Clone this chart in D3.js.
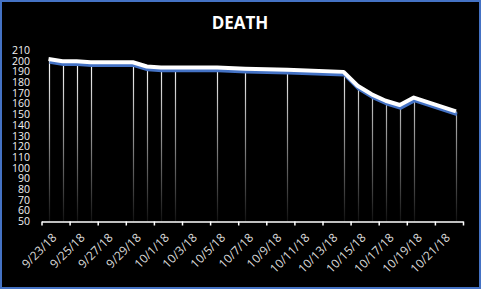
<!DOCTYPE html>
<html>
<head>
<meta charset="utf-8">
<script src="https://cdn.jsdelivr.net/npm/d3@7"></script>
<style>
  html, body { margin: 0; padding: 0; background: #000; }
  svg { display: block; }
</style>
</head>
<body>
<div id="chart"></div>
<script>
// data
const dates = ["2018-09-23", "2018-09-24", "2018-09-25", "2018-09-26", "2018-09-29", "2018-09-30",
  "2018-10-01", "2018-10-02", "2018-10-05", "2018-10-07", "2018-10-10", "2018-10-14",
  "2018-10-15", "2018-10-16", "2018-10-17", "2018-10-18", "2018-10-19", "2018-10-22"];
const deaths = [202, 200, 200, 199, 199, 195, 194, 194, 194, 193, 192, 190, 177, 169, 163, 159, 166, 153];
const yTicks = [50, 60, 70, 80, 90, 100, 110, 120, 130, 140, 150, 160, 170, 180, 190, 200, 210];
const title = "DEATH";

const width = 481, height = 289;
const parse = d3.timeParse("%Y-%m-%d");
const fmt = d => (d.getMonth() + 1) + "/" + d.getDate() + "/" + String(d.getFullYear()).slice(2);
const noon = d => d3.timeHour.offset(d, 12);

const data = dates.map((d, i) => ({ date: parse(d), value: deaths[i] }));

const svg = d3.select("#chart").append("svg")
  .attr("width", width)
  .attr("height", height);

// background + blue frame
svg.append("rect")
  .attr("x", 1).attr("y", 1)
  .attr("width", width - 2).attr("height", height - 2)
  .attr("fill", "#000")
  .attr("stroke", "#4472c4")
  .attr("stroke-width", 2);

svg.append("text")
  .attr("x", 240).attr("y", 29)
  .attr("text-anchor", "middle")
  .attr("fill", "#fff")
  .style("font", "bold 17px 'Open Sans', sans-serif")
  .text(title);

// scales: one day = one slot, points in the middle of the slot
const x = d3.scaleTime()
  .domain([parse("2018-09-23"), parse("2018-10-23")])
  .range([41.5, 463]);
const y = d3.scaleLinear()
  .domain([50, 210])
  .range([221.5, 50.5]);

// y labels (no axis line)
svg.append("g")
  .selectAll("text")
  .data(yTicks)
  .join("text")
  .attr("x", 30)
  .attr("y", d => y(d) + 3.5)
  .attr("text-anchor", "end")
  .attr("fill", "#f2f2f2")
  .style("font", "10.5px 'Open Sans', sans-serif")
  .text(d => d);

// fading drop lines
const defs = svg.append("defs");
const grad = defs.append("linearGradient")
  .attr("id", "drop")
  .attr("gradientUnits", "userSpaceOnUse")
  .attr("x1", 0).attr("x2", 0)
  .attr("y1", 60).attr("y2", y(50));
grad.append("stop").attr("offset", "0%").attr("stop-color", "#ffffff");
grad.append("stop").attr("offset", "50%").attr("stop-color", "#8c8c8c");
grad.append("stop").attr("offset", "100%").attr("stop-color", "#111");

svg.append("g")
  .selectAll("line")
  .data(data)
  .join("line")
  .attr("x1", d => Math.round(x(noon(d.date))) + 0.5)
  .attr("x2", d => Math.round(x(noon(d.date))) + 0.5)
  .attr("y1", d => y(d.value))
  .attr("y2", y(50))
  .attr("stroke", "url(#drop)")
  .attr("stroke-width", 1.2);

// x axis: ticks on every second day boundary
const xAxis = d3.axisBottom(x)
  .tickValues(d3.timeDay.range(parse("2018-09-23"), parse("2018-10-24"), 2))
  .tickFormat("")
  .tickSize(4)
  .tickSizeOuter(0);

const gx = svg.append("g")
  .attr("transform", `translate(0,${y(50)})`)
  .call(xAxis);
gx.select(".domain").attr("stroke", "#fff").attr("stroke-width", 1.5);
gx.selectAll(".tick line").attr("stroke", "#fff").attr("stroke-width", 1.5);

// rotated date labels
const labelDays = d3.timeDay.range(parse("2018-09-23"), parse("2018-10-22"), 2);
svg.append("g")
  .selectAll("text")
  .data(labelDays)
  .join("text")
  .attr("transform", d => `translate(${x(noon(d)) + 3},${y(50) + 11}) rotate(-45)`)
  .attr("text-anchor", "end")
  .attr("dy", "0.7em")
  .attr("fill", "#d9d9d9")
  .style("font", "12px 'Open Sans', sans-serif")
  .text(fmt);

// the series: blue shadow below, white line on top
const line = d3.line()
  .x(d => x(noon(d.date)))
  .y(d => y(d.value));

svg.append("path")
  .datum(data)
  .attr("d", line)
  .attr("transform", "translate(1,3)")
  .attr("fill", "none")
  .attr("stroke", "#4472c4")
  .attr("stroke-width", 3.5)
  .attr("stroke-linejoin", "round");

svg.append("path")
  .datum(data)
  .attr("d", line)
  .attr("fill", "none")
  .attr("stroke", "#fff")
  .attr("stroke-width", 4)
  .attr("stroke-linejoin", "round");
</script>
</body>
</html>
